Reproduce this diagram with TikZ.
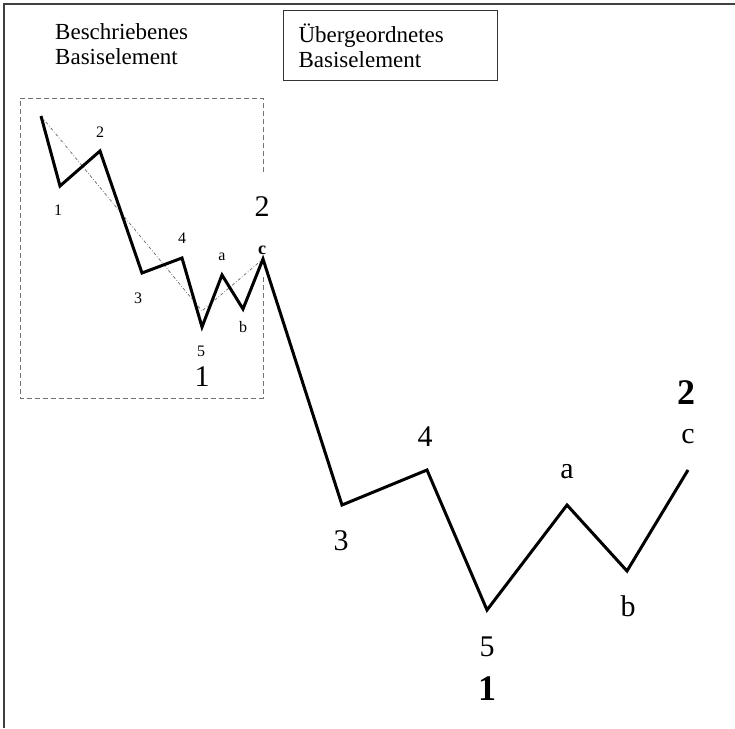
\documentclass[tikz,border=0pt]{standalone}
\usepackage{fontspec}
\setmainfont{Liberation Serif}
\usetikzlibrary{positioning}
\tikzset{
  % Kurse
  wave/.style={line width=3pt,line join=miter,miter limit=4,black},
  trend/.style={black!60,line width=0.7pt,dash dot},
  % Rahmen
  frame/.style={line width=2pt,black!75},
  zoombox/.style={black!55,line width=0.9pt,dash pattern=on 5pt off 3pt},
  % Beschriftungen
  lbl small/.style={inner sep=0,font=\fontsize{16}{18}\selectfont},
  lbl big/.style={inner sep=0,font=\fontsize{30}{34}\selectfont},
  lbl bold/.style={inner sep=0,font=\fontsize{36}{40}\selectfont\bfseries},
  caption/.style={inner sep=0,align=left,font=\fontsize{23}{25}\selectfont}
}

\begin{document}
\begin{tikzpicture}[x=1pt,y=-1pt]
  \useasboundingbox (0,0) rectangle (735,728);
  \draw[frame] (4,728) -- (4,4) -- (735,4);

  \node[caption,anchor=north west] (desc) at (55,23) {Beschriebenes\\Basiselement};
  \node[caption,draw=black!80,line width=1.2pt,anchor=north west,minimum height=70pt,
        text width=184pt,inner xsep=15pt,inner ysep=0pt] (ubox) at (283,10)
        {Übergeordnetes\\Basiselement};

  % Eckpunkte
  \foreach \n/\x/\y in {s0/41/116, s1/60/186, s2/100/151, s3/142/273, s4/182/258,
                        s5/202/327, sa/222/275, sb/243/309, sc/263/259,
                        b3/342/505, b4/427/470, b5/487/610, ba/567/505, bb/627/571, bc/688/470}
    \coordinate (\n) at (\x,\y);
  \coordinate (t5) at (202,311);

  % Ausschnitt
  \draw[zoombox] (263,172) -- (263,98) -- (20,98) -- (20,398) -- (263,398) -- (263,277);

  \draw[trend] (s0) -- (t5) -- (sc);
  \draw[wave] (s0) -- (s1) -- (s2) -- (s3) -- (s4) -- (s5) -- (sa) -- (sb) -- (sc)
    -- (b3) -- (b4) -- (b5) -- (ba) -- (bb) -- (bc);

  % kleines Element
  \node[lbl small] (ls1) at (58,210) {1};
  \node[lbl small] (ls2) at (100,132) {2};
  \node[lbl small] (ls3) at (138,298) {3};
  \node[lbl small] (ls4) at (182,238) {4};
  \node[lbl small] (ls5) at (201,351) {5};
  \node[lbl small] (lsa) at (222,257) {a};
  \node[lbl small] (lsb) at (243,327) {b};
  \node[lbl small,font=\fontsize{18}{20}\selectfont\bfseries] (lsc) at (262,250) {c};
  \node[lbl big] (ls2b) at (262,207) {2};
  \node[lbl big] (ls1b) at (202,377) {1};

  % grosses Element
  \node[lbl big] (lb3) at (341,541) {3};
  \node[lbl big] (lb4) at (425,437) {4};
  \node[lbl big] (lb5) at (487,647) {5};
  \node[lbl big] (lba) at (567,472) {a};
  \node[lbl big] (lbb) at (628,606) {b};
  \node[lbl big] (lbc) at (688,437) {c};
  \node[lbl bold] (lb1) at (487,689) {1};
  \node[lbl bold] (lb2) at (686,393) {2};
\end{tikzpicture}
\end{document}
